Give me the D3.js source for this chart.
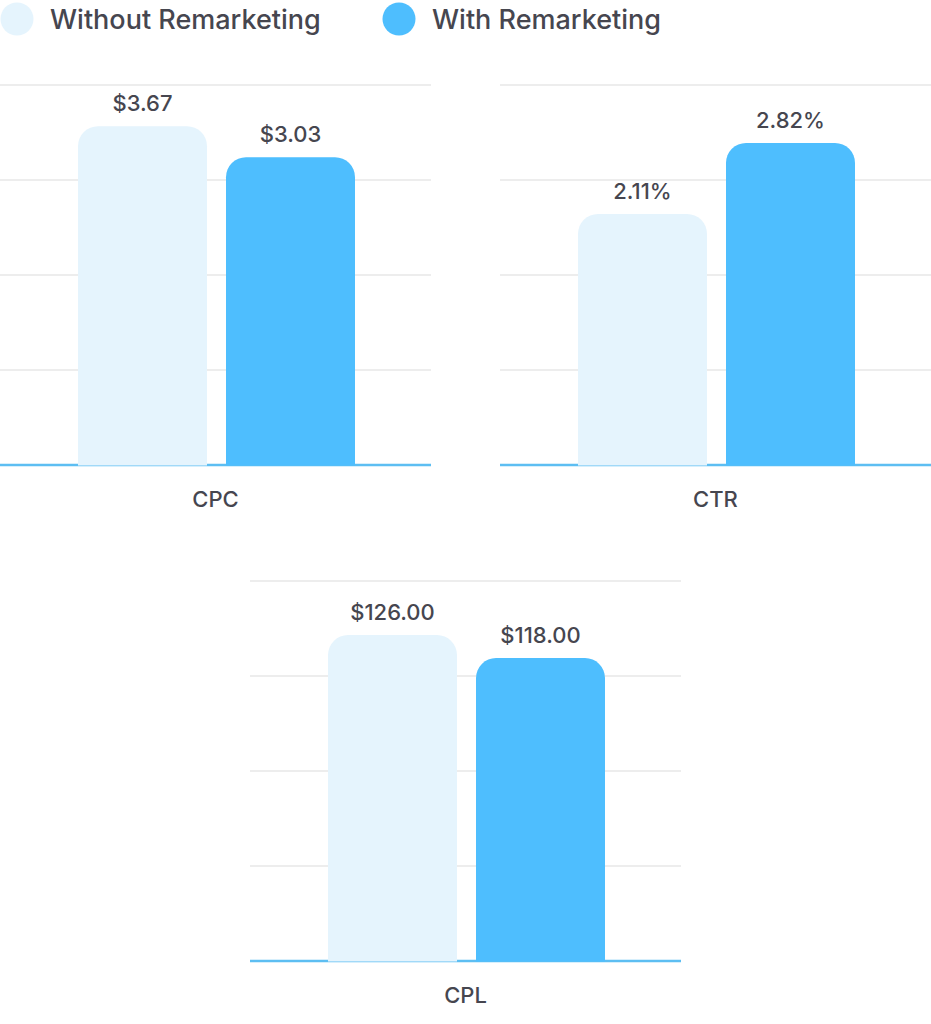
<!DOCTYPE html>
<html>
<head>
<meta charset="utf-8">
<script src="https://cdn.jsdelivr.net/npm/d3@7"></script>
<style>
  html, body { margin: 0; padding: 0; background: #fff; }
  svg { display: block; font-family: Inter, "Noto Sans", sans-serif; }
</style>
</head>
<body>
<svg id="chart" width="931" height="1024"></svg>
<script>
// ---- data ----
const series = ["Without Remarketing", "With Remarketing"];
const metrics = ["CPC", "CTR", "CPL"];
const cpcValues = [3.67, 3.03];
const ctrValues = [2.11, 2.82];
const cplValues = [126.00, 118.00];
const cpcLabels = ["$3.67", "$3.03"];
const ctrLabels = ["2.11%", "2.82%"];
const cplLabels = ["$126.00", "$118.00"];
// value range shown by each panel (bottom, top)
const cpcDomain = [-3.33, 4.52];
const ctrDomain = [-0.40, 3.40];
const cplDomain = [12.6, 144.8];
const gridTicks = [0, 1, 2, 3, 4];

const colors = ["#E5F4FD", "#4EBEFE"];
const textColor = "#46464F";

const svg = d3.select("#chart");

// legend
const legend = svg.append("g");
const legendPos = [{cx: 17, tx: 50}, {cx: 399, tx: 432}];
series.forEach((s, i) => {
  legend.append("circle").attr("cx", legendPos[i].cx).attr("cy", 19).attr("r", 16.5).attr("fill", colors[i]);
  legend.append("text").attr("x", legendPos[i].tx).attr("y", 29)
    .attr("font-size", 27).attr("font-weight", 500).attr("fill", textColor).text(s);
});

const panels = [
  {name: metrics[0], values: cpcValues, labels: cpcLabels, domain: cpcDomain, x0: 0, y0: 85},
  {name: metrics[1], values: ctrValues, labels: ctrLabels, domain: ctrDomain, x0: 500, y0: 85},
  {name: metrics[2], values: cplValues, labels: cplLabels, domain: cplDomain, x0: 250, y0: 581}
];

const W = 431, H = 380, R = 20;

function roundTopBar(x, y, w, h, r) {
  const p = d3.path();
  p.moveTo(x, y + h);
  p.lineTo(x, y + r);
  p.arcTo(x, y, x + r, y, r);
  p.lineTo(x + w - r, y);
  p.arcTo(x + w, y, x + w, y + r, r);
  p.lineTo(x + w, y + h);
  p.closePath();
  return p.toString();
}

panels.forEach(pn => {
  const g = svg.append("g").attr("transform", `translate(${pn.x0},${pn.y0})`);
  const x = d3.scaleBand().domain(series).range([78, 355]).paddingInner(19 / 148).paddingOuter(0);
  const y = d3.scaleLinear().domain(pn.domain).range([H, 0]);
  const grid = d3.scaleLinear().domain([0, 4]).range([H, 0]);

  g.selectAll("line.grid").data(gridTicks.slice(1)).join("line")
    .attr("class", "grid")
    .attr("x1", 0).attr("x2", W)
    .attr("y1", d => grid(d)).attr("y2", d => grid(d))
    .attr("stroke", "#EDEDED").attr("stroke-width", 2);

  g.append("line").attr("x1", 0).attr("x2", W).attr("y1", H).attr("y2", H)
    .attr("stroke", "#5DBEF2").attr("stroke-width", 2.5);

  g.selectAll("path.bar").data(pn.values).join("path")
    .attr("class", "bar")
    .attr("d", (d, i) => roundTopBar(x(series[i]), y(d), x.bandwidth(), H - y(d) + 0.5, R))
    .attr("fill", (d, i) => colors[i]);

  g.selectAll("text.val").data(pn.values).join("text")
    .attr("class", "val")
    .attr("x", (d, i) => x(series[i]) + x.bandwidth() / 2)
    .attr("y", d => y(d) - 15)
    .attr("text-anchor", "middle")
    .attr("font-size", 22).attr("font-weight", 500).attr("fill", textColor)
    .text((d, i) => pn.labels[i]);

  g.append("text").attr("x", W / 2).attr("y", H + 42)
    .attr("text-anchor", "middle").attr("font-size", 22).attr("font-weight", 500).attr("fill", textColor)
    .text(pn.name);
});
</script>
</body>
</html>
